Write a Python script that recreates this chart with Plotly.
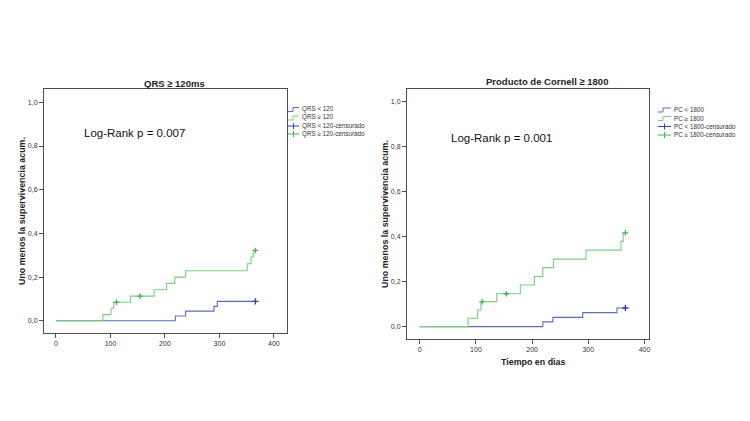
import plotly.graph_objects as go

W, H = 750, 421

# ---------------- data ----------------
panel_titles = ["QRS ≥ 120ms", "Producto de Cornell ≥ 1800"]
logrank_texts = ["Log-Rank p = 0.007", "Log-Rank p = 0.001"]
legend_left = ["QRS < 120", "QRS ≥ 120", "QRS < 120-censurado", "QRS ≥ 120-censurado"]
legend_right = ["PC < 1800", "PC ≥ 1800", "PC < 1800-censurado", "PC ≥ 1800-censurado"]
y_title = "Uno menos la supervivencia acum."
x_title = "Tiempo en dias"

# QRS panel
qrs_lo_t = [0, 219, 238, 290, 296, 366]
qrs_lo_v = [0, 0.022, 0.044, 0.066, 0.089, 0.089]
qrs_lo_cens_t = [366]
qrs_lo_cens_v = [0.089]
qrs_hi_t = [0, 86, 101, 106, 137, 180, 203, 218, 238, 351, 358, 362, 366]
qrs_hi_v = [0, 0.028, 0.057, 0.085, 0.113, 0.142, 0.171, 0.2, 0.229, 0.261, 0.292, 0.322, 0.322]
qrs_hi_cens_t = [111, 154, 366]
qrs_hi_cens_v = [0.085, 0.113, 0.322]

# Cornell panel
pc_lo_t = [0, 219, 237, 290, 351, 366]
pc_lo_v = [0, 0.021, 0.041, 0.062, 0.083, 0.083]
pc_lo_cens_t = [366]
pc_lo_cens_v = [0.083]
pc_hi_t = [0, 86, 103, 109, 137, 179, 204, 219, 238, 296, 358, 362, 366]
pc_hi_v = [0, 0.037, 0.074, 0.111, 0.146, 0.185, 0.223, 0.262, 0.3, 0.34, 0.379, 0.417, 0.417]
pc_hi_cens_t = [111, 154, 366]
pc_hi_cens_v = [0.111, 0.146, 0.417]

x_ticks = [0, 100, 200, 300, 400]
y_ticks = [0, 0.2, 0.4, 0.6, 0.8, 1.0]

# ---------------- style ----------------
BLUE = "#5b6db8"
GREEN = "#76d07e"
BLUE_C = "#2f46a6"
GREEN_C = "#3fb64a"
FRAME = "#4d4d4d"
FONT = "Liberation Sans, Arial, sans-serif"


def px(x):
    return x / W


def py(y):
    return 1 - y / H


fig = go.Figure()

panels = [
    dict(xa="x", ya="y", lo=(qrs_lo_t, qrs_lo_v), hi=(qrs_hi_t, qrs_hi_v),
         loc=(qrs_lo_cens_t, qrs_lo_cens_v), hic=(qrs_hi_cens_t, qrs_hi_cens_v)),
    dict(xa="x2", ya="y2", lo=(pc_lo_t, pc_lo_v), hi=(pc_hi_t, pc_hi_v),
         loc=(pc_lo_cens_t, pc_lo_cens_v), hic=(pc_hi_cens_t, pc_hi_cens_v)),
]

for p in panels:
    fig.add_trace(go.Scatter(x=p["lo"][0], y=p["lo"][1], mode="lines",
                             line=dict(shape="hv", color=BLUE, width=1.1),
                             xaxis=p["xa"], yaxis=p["ya"], showlegend=False))
    fig.add_trace(go.Scatter(x=p["hi"][0], y=p["hi"][1], mode="lines",
                             line=dict(shape="hv", color=GREEN, width=1.1),
                             xaxis=p["xa"], yaxis=p["ya"], showlegend=False))
    fig.add_trace(go.Scatter(x=p["loc"][0], y=p["loc"][1], mode="markers",
                             marker=dict(symbol="cross-thin", size=4.5,
                                         line=dict(color=BLUE_C, width=1.4)),
                             xaxis=p["xa"], yaxis=p["ya"], showlegend=False))
    fig.add_trace(go.Scatter(x=p["hic"][0], y=p["hic"][1], mode="markers",
                             marker=dict(symbol="cross-thin", size=4,
                                         line=dict(color=GREEN_C, width=1.3)),
                             xaxis=p["xa"], yaxis=p["ya"], showlegend=False))

axis_common = dict(showline=True, mirror=True, linecolor=FRAME, linewidth=1,
                   ticks="outside", ticklen=4, tickcolor=FRAME, showgrid=False,
                   zeroline=False, tickfont=dict(size=7, color="#333", family=FONT))

fig.update_layout(
    width=W, height=H, margin=dict(l=0, r=0, t=0, b=0),
    paper_bgcolor="white", plot_bgcolor="white",
    separators=", ",
    showlegend=False,
    xaxis=dict(domain=[px(44), px(287)], range=[-22, 424], tickvals=x_ticks,
               anchor="y", **axis_common),
    yaxis=dict(domain=[py(333), py(89)], range=[-0.056, 1.061], tickvals=y_ticks,
               tickformat=".1f", anchor="x", **axis_common),
    xaxis2=dict(domain=[px(407), px(649)], range=[-22.7, 408], tickvals=x_ticks,
                anchor="y2", **axis_common),
    yaxis2=dict(domain=[py(339), py(89)], range=[-0.055, 1.056], tickvals=y_ticks,
                tickformat=".1f", anchor="x2", **axis_common),
)

ann = []


def text(t, x, y, size, color="#222", xanchor="center", angle=0):
    ann.append(dict(text=t, x=px(x), y=py(y), xref="paper", yref="paper",
                    xanchor=xanchor, yanchor="middle", textangle=angle,
                    showarrow=False, font=dict(size=size, color=color, family=FONT)))


text("<b>%s</b>" % panel_titles[0], 174, 83, 9.5)
text("<b>%s</b>" % panel_titles[1], 547, 82, 9.5)
text("<b>%s</b>" % y_title, 22, 211, 8.9, angle=-90)
text("<b>%s</b>" % y_title, 385, 214, 8.9, angle=-90)
text("<b>%s</b>" % x_title, 533, 362, 8.9)
text(logrank_texts[0], 82, 133, 11.5, color="#111", xanchor="left")
text(logrank_texts[1], 449, 138, 11.5, color="#111", xanchor="left")

shapes = []


def add_legend(labels, x0, x1, rows):
    colors_line = [BLUE, GREEN]
    colors_c = [BLUE_C, GREEN_C]
    xm = (x0 + x1) / 2
    for i, (lab, yr) in enumerate(zip(labels, rows)):
        if i < 2:
            c = colors_line[i]
            path = "M %f,%f L %f,%f L %f,%f L %f,%f" % (
                px(x0), py(yr + 2.5), px(x0 + 5), py(yr + 2.5),
                px(x0 + 5), py(yr - 1.5), px(x1), py(yr - 1.5))
            shapes.append(dict(type="path", path=path, xref="paper", yref="paper",
                               line=dict(color=c, width=1)))
        else:
            c = colors_c[i - 2]
            shapes.append(dict(type="line", x0=px(x0), x1=px(x1), y0=py(yr), y1=py(yr),
                               xref="paper", yref="paper", line=dict(color=c, width=1)))
            shapes.append(dict(type="line", x0=px(xm), x1=px(xm), y0=py(yr - 3), y1=py(yr + 3),
                               xref="paper", yref="paper", line=dict(color=c, width=1)))
        text(lab, x1 + 1, yr, 6.3, color="#333", xanchor="left")


add_legend(legend_left, 288, 299, [109, 117.5, 126, 134])
add_legend(legend_right, 658, 671, [109.5, 118, 126.5, 135])

fig.update_layout(annotations=ann, shapes=shapes)

fig.write_html("out.html", config={"displayModeBar": False},
               post_script="document.body.style.margin='0';document.body.style.overflow='hidden';")
